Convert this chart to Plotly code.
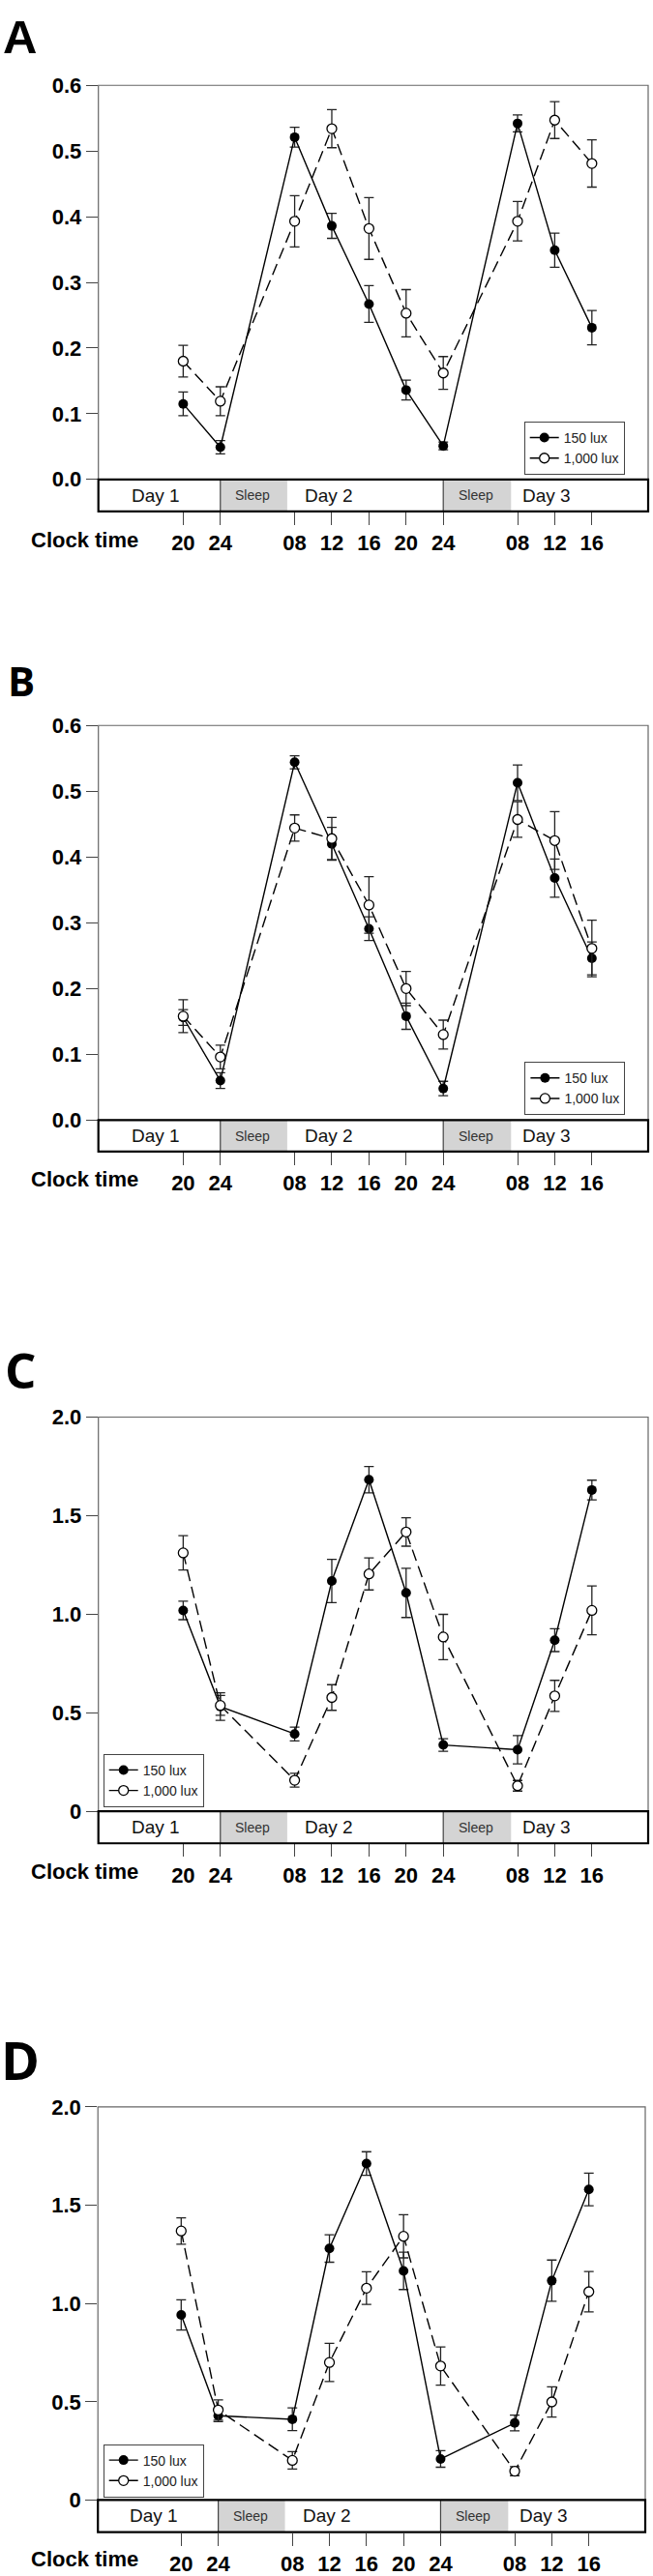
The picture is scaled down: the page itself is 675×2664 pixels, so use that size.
import plotly.graph_objects as go

W, H = 675, 2664

# ---------------- data ----------------
times = [20, 24, 32, 36, 40, 44, 48, 56, 60, 64]
tick_text = ['20', '24', '08', '12', '16', '20', '24', '08', '12', '16']
legend_names = ['150 lux', '1,000 lux']
panel_letters = ['A', 'B', 'C', 'D']
day_labels = ['Day 1', 'Day 2', 'Day 3']
day_label_times = [17.0, 35.7, 59.1]
sleep_spans = [(24, 31.2), (48, 55.3)]
sleep_label_times = [27.45, 51.5]
dividers = [24, 48]

yticks_small = [0, 0.1, 0.2, 0.3, 0.4, 0.5, 0.6]
ytext_small = ['0.0', '0.1', '0.2', '0.3', '0.4', '0.5', '0.6']
yticks_big = [0, 0.5, 1.0, 1.5, 2.0]
ytext_big = ['0', '0.5', '1.0', '1.5', '2.0']

# Panel A
a_150 = [0.115, 0.049, 0.521, 0.386, 0.267, 0.136, 0.051, 0.542, 0.349, 0.231]
a_150_se = [0.018, 0.010, 0.015, 0.019, 0.028, 0.015, 0.006, 0.013, 0.026, 0.026]
a_1000 = [0.180, 0.119, 0.393, 0.534, 0.382, 0.253, 0.162, 0.393, 0.547, 0.481]
a_1000_se = [0.024, 0.022, 0.039, 0.029, 0.047, 0.036, 0.025, 0.030, 0.028, 0.036]
# Panel B
b_150 = [0.156, 0.060, 0.544, 0.420, 0.291, 0.158, 0.048, 0.513, 0.368, 0.246]
b_150_se = [0.012, 0.012, 0.010, 0.025, 0.018, 0.020, 0.011, 0.027, 0.029, 0.025]
b_1000 = [0.158, 0.096, 0.444, 0.428, 0.327, 0.200, 0.130, 0.457, 0.425, 0.261]
b_1000_se = [0.025, 0.018, 0.020, 0.032, 0.043, 0.026, 0.022, 0.027, 0.044, 0.043]
# Panel C
c_150 = [1.019, 0.531, 0.392, 1.168, 1.682, 1.108, 0.336, 0.312, 0.868, 1.630]
c_150_se = [0.047, 0.070, 0.035, 0.110, 0.067, 0.125, 0.032, 0.072, 0.058, 0.050]
c_1000 = [1.311, 0.537, 0.157, 0.577, 1.204, 1.417, 0.884, 0.129, 0.585, 1.019]
c_1000_se = [0.087, 0.050, 0.035, 0.065, 0.081, 0.072, 0.115, 0.027, 0.079, 0.124]
# Panel D
d_150 = [0.942, 0.429, 0.411, 1.280, 1.712, 1.166, 0.209, 0.392, 1.116, 1.580]
d_150_se = [0.077, 0.030, 0.058, 0.070, 0.060, 0.095, 0.042, 0.040, 0.105, 0.083]
d_1000 = [1.369, 0.458, 0.202, 0.700, 1.078, 1.342, 0.682, 0.147, 0.499, 1.060]
d_1000_se = [0.067, 0.052, 0.044, 0.097, 0.083, 0.110, 0.097, 0.023, 0.077, 0.103]

series = [
    (a_150, a_150_se, a_1000, a_1000_se),
    (b_150, b_150_se, b_1000, b_1000_se),
    (c_150, c_150_se, c_1000, c_1000_se),
    (d_150, d_150_se, d_1000, d_1000_se),
]

# ---------------- layout geometry (pixels) ----------------
panels = [
    dict(l=101.7, r=670.0, top=76.7, zero=486.7, bot=520.0, ymax=0.6, xr=(10.87, 70.06),
         yt=(yticks_small, ytext_small), letter=(20.5, 25.8, 49, 'Liberation Sans'),
         clock=550, legend=(541.7, 426.5)),
    dict(l=101.7, r=670.0, top=742.7, zero=1153.3, bot=1186.0, ymax=0.6, xr=(10.87, 70.06),
         yt=(yticks_small, ytext_small), letter=(21.7, 696, 42, 'Open Sans'),
         clock=1215, legend=(542.4, 1092.7)),
    dict(l=101.7, r=670.0, top=1462.3, zero=1872.3, bot=1905.7, ymax=2.0, xr=(10.87, 70.06),
         yt=(yticks_big, ytext_big), letter=(21.3, 1412, 51, 'Open Sans'),
         clock=1935, legend=(106.7, 1812.7)),
    dict(l=101.2, r=667.0, top=2180.0, zero=2589.0, bot=2622.3, ymax=2.0, xr=(11.01, 70.09),
         yt=(yticks_big, ytext_big), letter=(20.8, 2131, 54, 'Open Sans'),
         clock=2650.7, legend=(106.7, 2530.7)),
]

TICKFONT = dict(family='Liberation Sans', size=22, color='black', weight='bold')

fig = go.Figure()
layout = dict(width=W, height=H, margin=dict(l=0, r=0, t=0, b=0),
              paper_bgcolor='white', plot_bgcolor='white', showlegend=True)
shapes, annotations = [], []

for i, p in enumerate(panels):
    n = '' if i == 0 else str(i + 1)
    xa, ya = 'x' + n, 'y' + n
    ymin = -(p['bot'] - p['zero']) / (p['zero'] - p['top']) * p['ymax']
    f0 = (0 - ymin) / (p['ymax'] - ymin)
    leg = 'legend' + n

    layout['xaxis' + n] = dict(
        domain=[p['l'] / W, p['r'] / W], range=list(p['xr']), anchor=ya,
        tickvals=times, ticktext=tick_text, ticks='outside', ticklen=13,
        tickwidth=1.2, tickcolor='#444', showline=False, showgrid=False,
        zeroline=False, tickfont=TICKFONT, fixedrange=True)
    layout['yaxis' + n] = dict(
        domain=[1 - p['bot'] / H, 1 - p['top'] / H], range=[ymin, p['ymax']], anchor=xa,
        tickvals=p['yt'][0], ticktext=p['yt'][1], ticks='outside', ticklen=12,
        tickwidth=1.2, tickcolor='#444', showline=False, showgrid=False,
        zeroline=False, tickfont=TICKFONT, fixedrange=True)

    v150, s150, v1000, s1000 = series[i]
    fig.add_trace(go.Scatter(
        x=times, y=v150, name=legend_names[0], xaxis=xa, yaxis=ya, legend=leg,
        mode='lines+markers', line=dict(color='black', width=1.4),
        marker=dict(symbol='circle', size=10, color='black'),
        error_y=dict(type='data', array=s150, color='#222', thickness=1.3, width=5)))
    fig.add_trace(go.Scatter(
        x=times, y=v1000, name=legend_names[1], xaxis=xa, yaxis=ya, legend=leg,
        mode='lines+markers', line=dict(color='black', width=1.4, dash='12px,6px'),
        marker=dict(symbol='circle', size=10, color='white', line=dict(color='black', width=1.3)),
        error_y=dict(type='data', array=s1000, color='#222', thickness=1.3, width=5)))

    layout[leg] = dict(
        x=p['legend'][0] / W, y=1 - p['legend'][1] / H, xanchor='left', yanchor='top',
        bordercolor='#444', borderwidth=1, bgcolor='white', tracegroupgap=0,
        font=dict(family='Liberation Sans', size=14, color='#222'))

    for (s0, s1) in sleep_spans:
        shapes.append(dict(type='rect', xref=xa, yref=ya, x0=s0, x1=s1, y0=ymin, y1=0,
                           fillcolor='#d4d4d4', line=dict(width=0), layer='below'))
    for d in dividers:
        shapes.append(dict(type='line', xref=xa, yref=ya, x0=d, x1=d, y0=ymin, y1=0,
                           line=dict(color='#444', width=1.2)))
    shapes.append(dict(type='rect', xref=xa + ' domain', yref=ya + ' domain', x0=0, x1=1,
                       y0=f0, y1=1, line=dict(color='#666', width=1.2), layer='below'))
    shapes.append(dict(type='rect', xref=xa + ' domain', yref=ya + ' domain', x0=0, x1=1,
                       y0=0, y1=f0, line=dict(color='black', width=2.2)))

    for lab, t in zip(day_labels, day_label_times):
        annotations.append(dict(text=lab, x=t, y=ymin / 2, xref=xa, yref=ya, showarrow=False,
                                xanchor='center', yanchor='middle',
                                font=dict(family='Liberation Sans', size=19, color='#111')))
    for t in sleep_label_times:
        annotations.append(dict(text='Sleep', x=t, y=ymin / 2, xref=xa, yref=ya, showarrow=False,
                                xanchor='center', yanchor='middle',
                                font=dict(family='Liberation Sans', size=14, color='#333')))
    annotations.append(dict(text='Clock time', x=87 / W, y=1 - p['clock'] / H,
                            xref='paper', yref='paper', showarrow=False,
                            xanchor='center', yanchor='middle',
                            font=dict(family='Liberation Sans', size=22, color='black', weight='bold')))
    lx, ly, lsize, lfam = p['letter']
    annotations.append(dict(text=panel_letters[i], x=lx / W, y=1 - ly / H,
                            xref='paper', yref='paper', showarrow=False,
                            xanchor='center', yanchor='middle',
                            font=dict(family=lfam, size=lsize, color='black', weight='bold')))

layout['shapes'] = shapes
layout['annotations'] = annotations
fig.update_layout(**layout)
fig.write_html('out.html', config={'displayModeBar': False},
               post_script="document.body.style.margin='0px';")
